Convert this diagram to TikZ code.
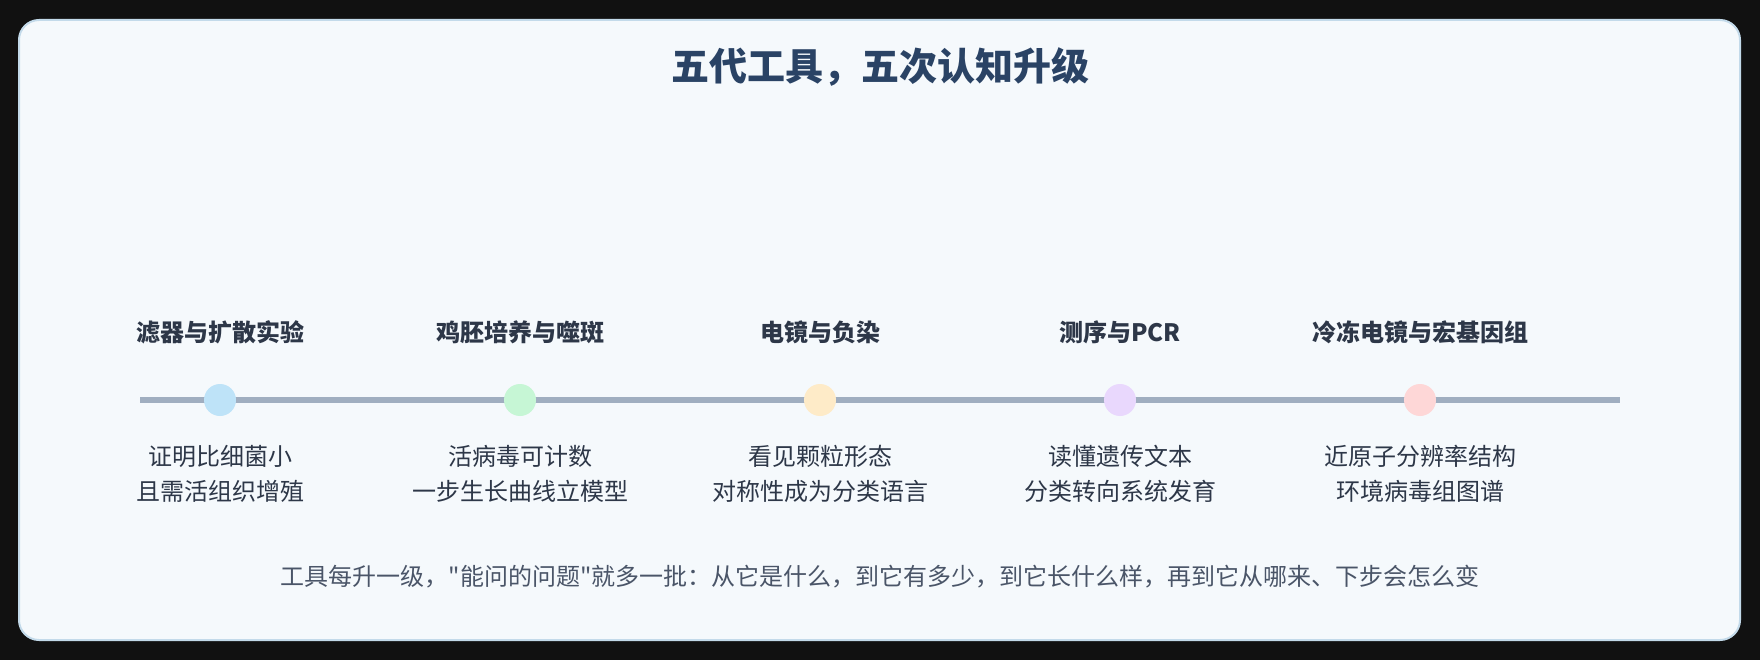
\documentclass[tikz,border=0pt]{standalone}
\usepackage{fontspec}
\setmainfont{Noto Sans CJK SC}
\newfontfamily\cjk{Noto Sans CJK SC}
\definecolor{outerbg}{HTML}{111111}
\definecolor{cardbg}{HTML}{F5F9FC}
\definecolor{cardborder}{HTML}{C3DAEA}
\definecolor{titlecol}{HTML}{2A4365}
\definecolor{labelcol}{HTML}{2D3748}
\definecolor{desccol}{HTML}{2D3748}
\definecolor{footcol}{HTML}{4A5568}
\definecolor{linecol}{HTML}{A0AEC0}
\definecolor{cA}{HTML}{BEE3F8}
\definecolor{cB}{HTML}{C6F6D5}
\definecolor{cC}{HTML}{FEEBC8}
\definecolor{cD}{HTML}{E9D8FD}
\definecolor{cE}{HTML}{FED7D7}
\tikzset{
  titlenode/.style={font=\cjk\bfseries\fontsize{38}{44}\selectfont, text=titlecol, inner sep=0pt},
  labelnode/.style={font=\cjk\bfseries\fontsize{24}{30}\selectfont, text=labelcol, inner sep=0pt},
  descnode/.style={font=\cjk\fontsize{24}{35}\selectfont, text=desccol, align=center, inner sep=0pt},
  footnode/.style={font=\cjk\fontsize{24}{30}\selectfont, text=footcol, inner sep=0pt},
  dotnode/.style={circle, minimum size=32pt, inner sep=0pt, draw=none},
}
\begin{document}
\begin{tikzpicture}[x=1pt,y=-1pt]
\useasboundingbox (0,0) rectangle (1760,660);
\fill[outerbg] (0,0) rectangle (1760,660);
\draw[cardborder, fill=cardbg, line width=2pt, rounded corners=20pt] (19,20) rectangle (1740,640);

\node[titlenode] (title) at (880,67) {五代工具，五次认知升级};

\coordinate (ls) at (140,400);
\coordinate (le) at (1620,400);
\draw[linecol, line width=6pt] (ls) -- (le);

\node[dotnode, fill=cA] (d1) at (220,400) {};
\node[dotnode, fill=cB] (d2) at (520,400) {};
\node[dotnode, fill=cC] (d3) at (820,400) {};
\node[dotnode, fill=cD] (d4) at (1120,400) {};
\node[dotnode, fill=cE] (d5) at (1420,400) {};

\node[labelnode] (l1) at (220,332) {滤器与扩散实验};
\node[labelnode] (l2) at (520,332) {鸡胚培养与噬斑};
\node[labelnode] (l3) at (820,332) {电镜与负染};
\node[labelnode] (l4) at (1120,332) {测序与PCR};
\node[labelnode] (l5) at (1420,332) {冷冻电镜与宏基因组};

\node[descnode] (t1) at (220,474) {证明比细菌小\\且需活组织增殖};
\node[descnode] (t2) at (520,474) {活病毒可计数\\一步生长曲线立模型};
\node[descnode] (t3) at (820,474) {看见颗粒形态\\对称性成为分类语言};
\node[descnode] (t4) at (1120,474) {读懂遗传文本\\分类转向系统发育};
\node[descnode] (t5) at (1420,474) {近原子分辨率结构\\环境病毒组图谱};

\node[footnode] (foot) at (880,577) {工具每升一级，"能问的问题"就多一批：从它是什么，到它有多少，到它长什么样，再到它从哪来、下步会怎么变};
\end{tikzpicture}
\end{document}
